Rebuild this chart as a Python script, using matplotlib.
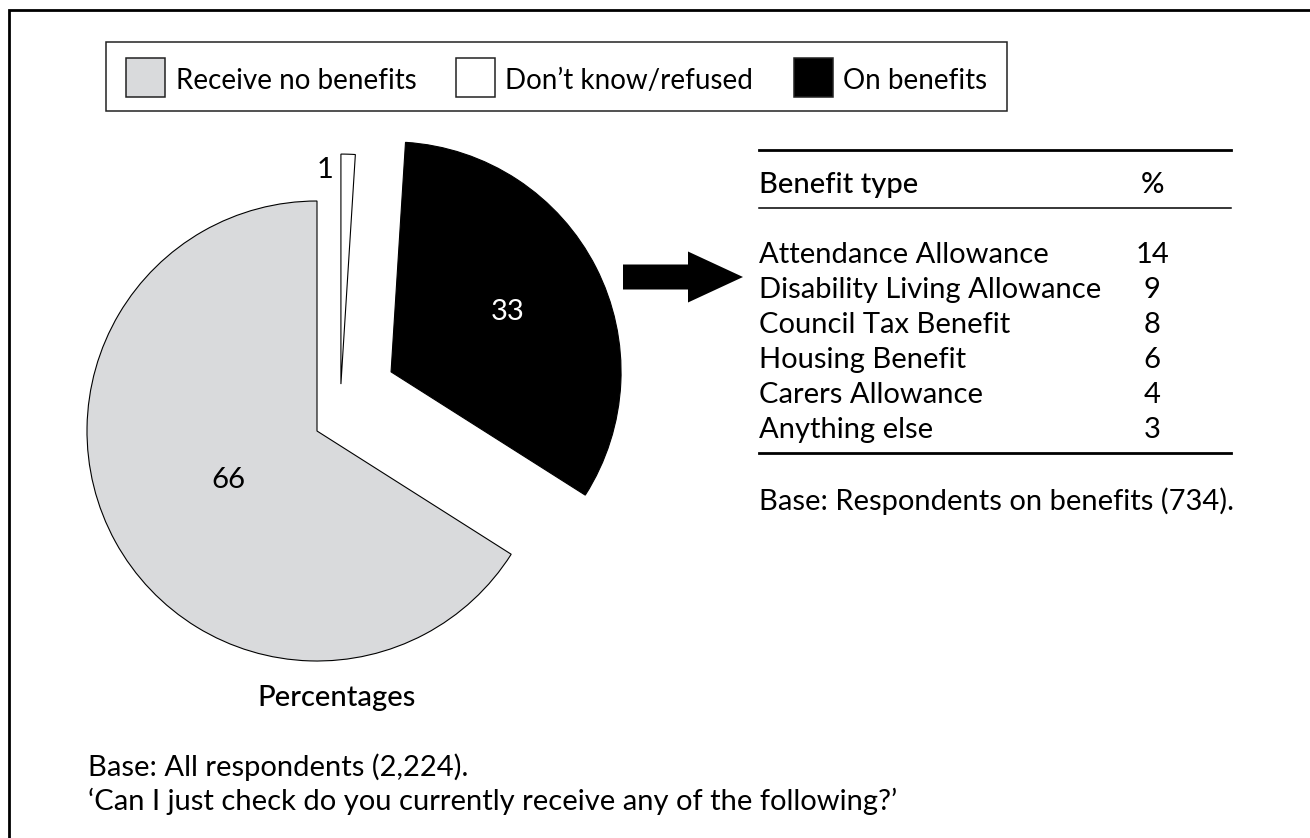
import matplotlib
matplotlib.use("Agg")
import matplotlib.pyplot as plt
from matplotlib.patches import Rectangle, FancyArrow
import numpy as np

# ---------------- data ----------------
categories = ["Receive no benefits", "Don\u2019t know/refused", "On benefits"]
shares = [66, 1, 33]
pie_order = [1, 2, 0]          # clockwise from 12 o'clock: white, black, grey
benefit_types = ["Attendance Allowance", "Disability Living Allowance",
                 "Council Tax Benefit", "Housing Benefit",
                 "Carers Allowance", "Anything else"]
benefit_pct = [14, 9, 8, 6, 4, 3]
table_header = ["Benefit type", "%"]
pie_caption = "Percentages"
table_base = "Base: Respondents on benefits (734)."
base_note = "Base: All respondents (2,224)."
question = "\u2018Can I just check do you currently receive any of the following?\u2019"

# ---------------- style ----------------
colors = ["#d9dadc", "#ffffff", "#000000"]
label_colors = ["black", "black", "white"]
W, H = 1310, 838
R = 230.0
CX, CY = 317, 431
wedge_offsets = [(0.0, 0.0), (0.104, 0.204), (0.322, 0.257)]  # in radius units

plt.rcParams["font.family"] = ["Lato", "DejaVu Sans"]
FS = 21
FS_LEG = 20

fig = plt.figure(figsize=(W / 100, H / 100), dpi=100)

# pixel-coordinate axes (y down)
ax = fig.add_axes([0, 0, 1, 1])
ax.set_xlim(0, W)
ax.set_ylim(H, 0)
ax.axis("off")

# frame (top and left)
ax.plot([8.5, 8.5, W], [H, 10, 10], color="black", lw=2.0,
        solid_joinstyle="miter")

# legend box
ax.add_patch(Rectangle((106, 42), 901, 69, fill=False, ec="#222222", lw=1.1))
leg_sq_x = [126, 456, 794]
leg_txt_x = [176, 505, 843]
for i, cat in enumerate(categories):
    ax.add_patch(Rectangle((leg_sq_x[i], 58), 39, 39, fc=colors[i],
                           ec="#222222", lw=1.1))
    ax.text(leg_txt_x[i], 89, cat, fontsize=FS_LEG, va="baseline", ha="left",
            color="black")

# ---------------- pie ----------------
pax = fig.add_axes([0, 0, 1, 1])
pax.patch.set_alpha(0)
vals = [shares[i] for i in pie_order]
cols = [colors[i] for i in pie_order]
wedges, _ = pax.pie(vals, colors=cols, startangle=90, counterclock=False,
                    radius=1, wedgeprops=dict(edgecolor="black", linewidth=0.8))
pax.set_xlim(-CX / R, (W - CX) / R)
pax.set_ylim(-(H - CY) / R, CY / R)
pax.set_aspect("auto")
pax.axis("off")

for w, idx in zip(wedges, pie_order):
    ox, oy = wedge_offsets[idx]
    w.set_center((ox, oy))
    t1, t2 = np.deg2rad(w.theta1), np.deg2rad(w.theta2)
    mid = 0.5 * (t1 + t2)
    if shares[idx] >= 10:
        d = 0.44 if idx == 0 else 0.57
        pax.text(ox + d * np.cos(mid), oy + d * np.sin(mid), str(shares[idx]),
                 ha="center", va="center", fontsize=FS, color=label_colors[idx])
    else:
        pax.annotate(str(shares[idx]), xy=(ox + 0.93 * np.cos(t2),
                                           oy + 0.93 * np.sin(t2)),
                     xytext=(-5, 0), textcoords="offset points",
                     ha="right", va="center", fontsize=FS, color="black")

ax.text(337, 706, pie_caption, fontsize=FS, fontweight="medium",
        ha="center", va="baseline")

# arrow
ax.add_patch(FancyArrow(623, 277, 120, 0, width=25, head_width=51,
                        head_length=55, length_includes_head=True,
                        fc="black", ec="none"))

# ---------------- table ----------------
TX0, TX1, VX = 759, 1231, 1152
ax.plot([TX0, TX1], [150, 150], color="black", lw=2.0)
ax.plot([TX0, TX1], [208, 208], color="black", lw=1.1)
ax.text(TX0, 193, table_header[0], fontsize=FS, fontweight="medium",
        ha="left", va="baseline")
ax.text(VX, 193, table_header[1], fontsize=FS, fontweight="medium",
        ha="center", va="baseline")
row_base0, row_step = 263, 35
for i, (name, pct) in enumerate(zip(benefit_types, benefit_pct)):
    yb = row_base0 + i * row_step
    ax.text(TX0, yb, name, fontsize=FS, ha="left", va="baseline")
    ax.text(VX, yb, str(pct), fontsize=FS, ha="center", va="baseline")
ax.plot([TX0, TX1], [453, 453], color="black", lw=2.0)
ax.text(TX0, 510, table_base, fontsize=FS, ha="left", va="baseline")

# ---------------- notes ----------------
ax.text(88, 776, base_note, fontsize=FS, ha="left", va="baseline")
ax.text(88, 810, question, fontsize=FS, ha="left", va="baseline")

fig.savefig("out.png", dpi=100, facecolor="white")
